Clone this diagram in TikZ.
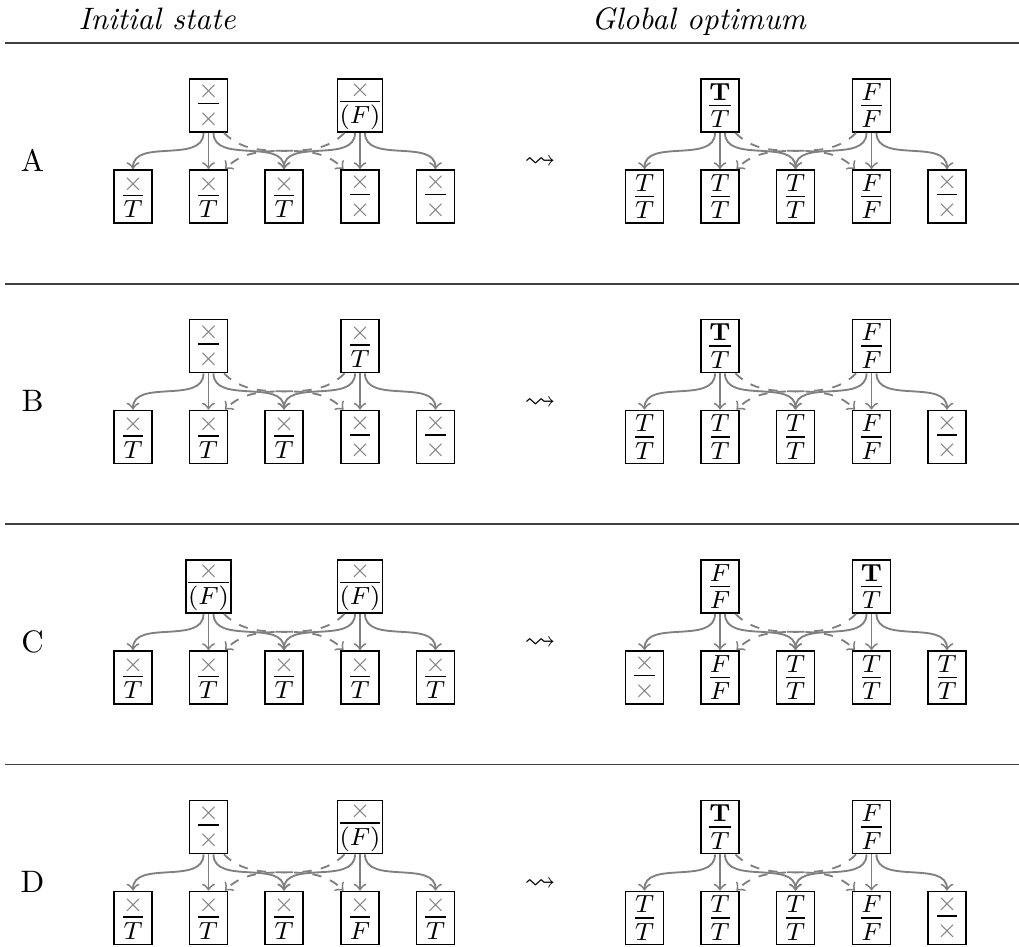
\documentclass[tikz,border=0pt]{standalone}
\usepackage{amsmath,amssymb}
\usetikzlibrary{calc}
\newcommand\X{{\color{gray}\times}}
\newcommand\fr[2]{$\nulldelimiterspace=0pt\frac{#1}{#2}$}
\tikzset{
  box/.style={draw=black, line width=0.5pt, minimum width=12.16pt, minimum height=17.2pt,
    inner xsep=0.7pt, inner ysep=0pt, font=\fontsize{12}{14}\selectfont},
  arr/.style={draw=gray, semithick, ->},
  darr/.style={arr, dashed},
  rowrule/.style={draw=black!75, line width=0.6pt},
  lab/.style={anchor=base, font=\normalsize},
}
\newcommand\gadget[9]{%
  \begin{scope}[shift={#2}]
    \node[box] (#1p1) at (75.5,0) {#3};
    \node[box] (#1p2) at (227,0) {#4};
    \node[box] (#1c1) at (0,91) {#5};
    \node[box] (#1c2) at (75.5,91) {#6};
    \node[box] (#1c3) at (151,91) {#7};
    \node[box] (#1c4) at (227,91) {#8};
    \node[box] (#1c5) at (302.5,91) {#9};
    \draw[arr] ($(#1p1.south)+(-5,0)$) to[out=-90,in=90] (#1c1.north);
    \draw[arr] (#1p1.south) -- (#1c2.north);
    \draw[arr] ($(#1p1.south)+(5,0)$) to[out=-90,in=90] (#1c3.north);
    \draw[arr] ($(#1p2.south)+(-5,0)$) to[out=-90,in=90] (#1c3.north);
    \draw[arr] (#1p2.south) -- (#1c4.north);
    \draw[arr] ($(#1p2.south)+(5,0)$) to[out=-90,in=90] (#1c5.north);
    \draw[darr] ($(#1p1.south)+(15.5,0)$) to[out=-45,in=135] ($(#1c4.north)+(-16.5,0)$);
    \draw[darr] ($(#1p2.south)+(-15.5,0)$) to[out=-135,in=45] ($(#1c2.north)+(16.5,0)$);
  \end{scope}}
\begin{document}
\begin{tikzpicture}[x=0.32258pt, y=-0.32258pt]
\useasboundingbox (0,0) rectangle (1019,947);
% headers
\node[anchor=base west, inner sep=0pt, font=\itshape] (h1) at (78,29) {Initial state};
\node[anchor=base west, inner sep=0pt, font=\itshape] (h2) at (591,29) {Global optimum};
% rules
\draw[rowrule] (5,43) -- (1019,43);
\draw[rowrule] (5,284) -- (1019,284);
\draw[rowrule] (5,524.3) -- (1019,524.3);
\draw[rowrule] (5,764.5) -- (1019,764.5);
% row labels and squiggles
\node[lab] (la) at (32.5,171) {A};
\node[lab] (lb) at (32.5,411.5) {B};
\node[lab] (lc) at (32.5,652) {C};
\node[lab] (ld) at (32.5,892.5) {D};
\node (sa) at (540,163) {$\rightsquigarrow$};
\node (sb) at (540,403.5) {$\rightsquigarrow$};
\node (sc) at (540,644) {$\rightsquigarrow$};
\node (sd) at (540,884.5) {$\rightsquigarrow$};
% row A
\gadget{ai}{(133,105.5)}{\fr{\X}{\X}}{\fr{\X}{(F)}}{\fr{\X}{T}}{\fr{\X}{T}}{\fr{\X}{T}}{\fr{\X}{\X}}{\fr{\X}{\X}}
\gadget{ag}{(644.5,105.5)}{\fr{\mathbf{T}}{T}}{\fr{F}{F}}{\fr{T}{T}}{\fr{T}{T}}{\fr{T}{T}}{\fr{F}{F}}{\fr{\X}{\X}}
% row B
\gadget{bi}{(133,346)}{\fr{\X}{\X}}{\fr{\X}{T}}{\fr{\X}{T}}{\fr{\X}{T}}{\fr{\X}{T}}{\fr{\X}{\X}}{\fr{\X}{\X}}
\gadget{bg}{(644.5,346)}{\fr{\mathbf{T}}{T}}{\fr{F}{F}}{\fr{T}{T}}{\fr{T}{T}}{\fr{T}{T}}{\fr{F}{F}}{\fr{\X}{\X}}
% row C
\gadget{ci}{(133,586.5)}{\fr{\X}{(F)}}{\fr{\X}{(F)}}{\fr{\X}{T}}{\fr{\X}{T}}{\fr{\X}{T}}{\fr{\X}{T}}{\fr{\X}{T}}
\gadget{cg}{(644.5,586.5)}{\fr{F}{F}}{\fr{\mathbf{T}}{T}}{\fr{\X}{\X}}{\fr{F}{F}}{\fr{T}{T}}{\fr{T}{T}}{\fr{T}{T}}
% row D
\gadget{di}{(133,827)}{\fr{\X}{\X}}{\fr{\X}{(F)}}{\fr{\X}{T}}{\fr{\X}{T}}{\fr{\X}{T}}{\fr{\X}{F}}{\fr{\X}{T}}
\gadget{dg}{(644.5,827)}{\fr{\mathbf{T}}{T}}{\fr{F}{F}}{\fr{T}{T}}{\fr{T}{T}}{\fr{T}{T}}{\fr{F}{F}}{\fr{\X}{\X}}
\end{tikzpicture}
\end{document}
